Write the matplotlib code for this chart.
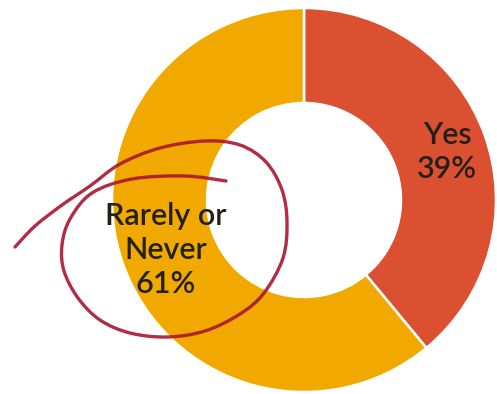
import numpy as np
import matplotlib
matplotlib.use("Agg")
import matplotlib.pyplot as plt
from matplotlib.path import Path
from matplotlib.patches import PathPatch

# ---- data ----
labels = ["Yes", "Rarely or\nNever"]
values = [39, 61]
colors = ["#DA5031", "#F1A900"]

# hand-drawn annotation stroke (pixel coords, y down)
stroke_x = [15, 35, 62, 90, 120, 160, 205, 240, 266, 282, 287, 283, 264, 240, 205,
            167, 130, 100, 78, 64, 62, 70, 92, 132, 185, 226]
stroke_y = [247, 226, 205, 186, 164, 148, 141, 145, 162, 190, 222, 258, 293, 314, 331,
            337, 333, 320, 298, 271, 245, 219, 193, 179, 176, 181]

W, H = 497, 394
fig = plt.figure(figsize=(W / 100, H / 100), dpi=100)
ax = fig.add_axes([0, 0, 1, 1])

cx, cy = 304, H - 200
R_out, R_in = 192, 97

wedges, _ = ax.pie(values, colors=colors, startangle=90, counterclock=False,
                   center=(cx, cy), radius=R_out,
                   wedgeprops=dict(width=R_out - R_in, edgecolor="white", linewidth=1.8))
ax.set_aspect("auto")
ax.set_xlim(0, W)
ax.set_ylim(0, H)
ax.axis("off")

font = "Lato"
txtc = "#231f1a"
ax.text(447, H - 152, f"{labels[0]}\n{values[0]}%", ha="center", va="center",
        fontsize=22, family=font, color=txtc, linespacing=1.25, fontweight="semibold")
ax.text(166, H - 250, f"{labels[1]}\n{values[1]}%", ha="center", va="center",
        fontsize=22, family=font, color=txtc, linespacing=1.25, fontweight="semibold")

# smooth stroke through the points (Catmull-Rom -> Bezier)
pts = np.column_stack([stroke_x, [H - y for y in stroke_y]]).astype(float)
verts = [pts[0]]
codes = [Path.MOVETO]
for i in range(len(pts) - 1):
    p0 = pts[i - 1] if i > 0 else pts[i]
    p1 = pts[i]
    p2 = pts[i + 1]
    p3 = pts[i + 2] if i + 2 < len(pts) else pts[i + 1]
    c1 = p1 + (p2 - p0) / 6.0
    c2 = p2 - (p3 - p1) / 6.0
    verts += [c1, c2, p2]
    codes += [Path.CURVE4] * 3
path = Path(verts, codes)
ax.add_patch(PathPatch(path, facecolor="none", edgecolor="#AA1630", lw=2.4,
                       capstyle="round", joinstyle="round", alpha=0.9))

fig.savefig("out.png", dpi=100)
